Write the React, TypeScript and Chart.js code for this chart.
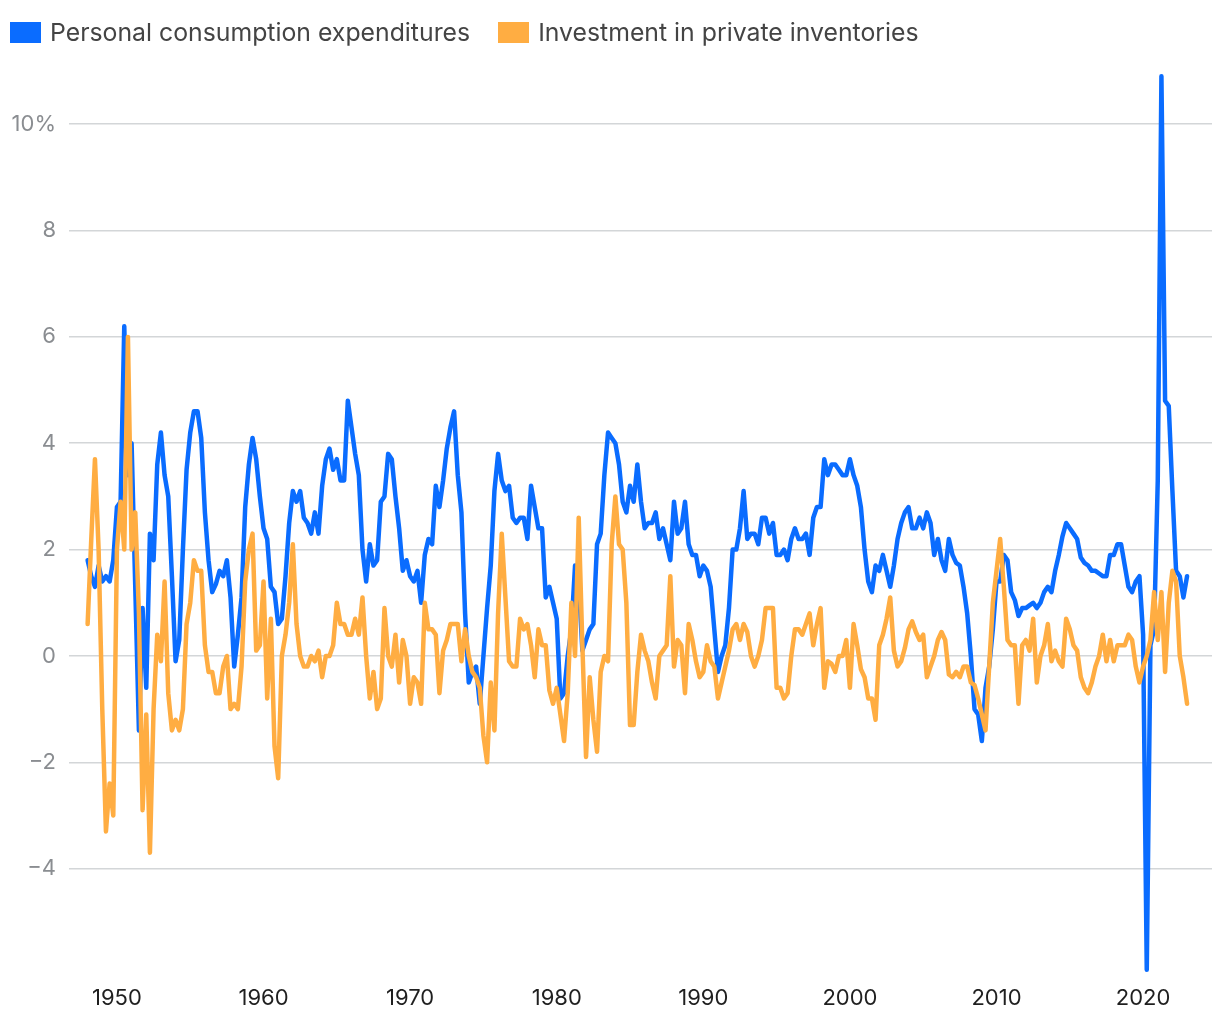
import React, { useEffect, useRef } from "react";
import { Chart, registerables } from "chart.js";

Chart.register(...registerables);

// Quarterly series, first value = 1948 Q1, last value = 2023 Q1
const startYear = 1948;

const seriesNames = ["Personal consumption expenditures", "Investment in private inventories"];
const seriesColors = ["#0a6cff", "#ffad42"];

const pceValues = [
  1.8, 1.5, 1.3, 1.7, // 1948
  1.4, 1.5, 1.4, 1.8, // 1949
  2.8, 2.9, 6.2, 3.4, // 1950
  4.0, 1.3, -1.4, 0.9, // 1951
  -0.6, 2.3, 1.8, 3.6, // 1952
  4.2, 3.4, 3.0, 1.5, // 1953
  -0.1, 0.3, 2.0, 3.5, // 1954
  4.2, 4.6, 4.6, 4.1, // 1955
  2.7, 1.8, 1.2, 1.35, // 1956
  1.6, 1.5, 1.8, 1.1, // 1957
  -0.2, 0.4, 1.1, 2.8, // 1958
  3.6, 4.1, 3.7, 3.0, // 1959
  2.4, 2.2, 1.3, 1.2, // 1960
  0.6, 0.7, 1.5, 2.5, // 1961
  3.1, 2.9, 3.1, 2.6, // 1962
  2.5, 2.3, 2.7, 2.3, // 1963
  3.2, 3.7, 3.9, 3.5, // 1964
  3.7, 3.3, 3.3, 4.8, // 1965
  4.3, 3.8, 3.4, 2.0, // 1966
  1.4, 2.1, 1.7, 1.8, // 1967
  2.9, 3.0, 3.8, 3.7, // 1968
  3.0, 2.4, 1.6, 1.8, // 1969
  1.5, 1.4, 1.6, 1.0, // 1970
  1.9, 2.2, 2.1, 3.2, // 1971
  2.8, 3.3, 3.9, 4.3, // 1972
  4.6, 3.4, 2.7, 0.8, // 1973
  -0.5, -0.3, -0.2, -0.9, // 1974
  0.0, 0.9, 1.7, 3.1, // 1975
  3.8, 3.3, 3.1, 3.2, // 1976
  2.6, 2.5, 2.6, 2.6, // 1977
  2.2, 3.2, 2.8, 2.4, // 1978
  2.4, 1.1, 1.3, 1.0, // 1979
  0.7, -0.8, -0.7, 0.0, // 1980
  0.5, 1.7, 1.4, 0.1, // 1981
  0.3, 0.5, 0.6, 2.1, // 1982
  2.3, 3.4, 4.2, 4.1, // 1983
  4.0, 3.6, 2.9, 2.7, // 1984
  3.2, 2.9, 3.6, 2.9, // 1985
  2.4, 2.5, 2.5, 2.7, // 1986
  2.2, 2.4, 2.1, 1.8, // 1987
  2.9, 2.3, 2.4, 2.9, // 1988
  2.1, 1.9, 1.9, 1.5, // 1989
  1.7, 1.6, 1.3, 0.5, // 1990
  -0.3, 0.0, 0.2, 0.9, // 1991
  2.0, 2.0, 2.4, 3.1, // 1992
  2.2, 2.3, 2.3, 2.1, // 1993
  2.6, 2.6, 2.3, 2.5, // 1994
  1.9, 1.9, 2.0, 1.8, // 1995
  2.2, 2.4, 2.2, 2.2, // 1996
  2.3, 1.9, 2.6, 2.8, // 1997
  2.8, 3.7, 3.4, 3.6, // 1998
  3.6, 3.5, 3.4, 3.4, // 1999
  3.7, 3.4, 3.2, 2.8, // 2000
  2.0, 1.4, 1.2, 1.7, // 2001
  1.6, 1.9, 1.6, 1.3, // 2002
  1.7, 2.2, 2.5, 2.7, // 2003
  2.8, 2.4, 2.4, 2.6, // 2004
  2.4, 2.7, 2.5, 1.9, // 2005
  2.2, 1.8, 1.6, 2.2, // 2006
  1.9, 1.75, 1.7, 1.3, // 2007
  0.8, 0.0, -1.0, -1.1, // 2008
  -1.6, -0.6, -0.2, 0.5, // 2009
  1.4, 1.4, 1.9, 1.8, // 2010
  1.2, 1.05, 0.75, 0.9, // 2011
  0.9, 0.95, 1.0, 0.9, // 2012
  1.0, 1.2, 1.3, 1.2, // 2013
  1.6, 1.9, 2.25, 2.5, // 2014
  2.4, 2.3, 2.2, 1.85, // 2015
  1.75, 1.7, 1.6, 1.6, // 2016
  1.55, 1.5, 1.5, 1.9, // 2017
  1.9, 2.1, 2.1, 1.7, // 2018
  1.3, 1.2, 1.4, 1.5, // 2019
  0.4, -5.9, 0.2, 0.5, // 2020
  3.3, 10.9, 4.8, 4.7, // 2021
  3.1, 1.6, 1.5, 1.1, // 2022
  1.5, // 2023
];

const inventoryValues = [
  0.6, 2.2, 3.7, 2.0, // 1948
  -1.0, -3.3, -2.4, -3.0, // 1949
  2.0, 2.9, 2.0, 6.0, // 1950
  2.0, 2.7, 0.8, -2.9, // 1951
  -1.1, -3.7, -1.0, 0.4, // 1952
  -0.1, 1.4, -0.7, -1.4, // 1953
  -1.2, -1.4, -1.0, 0.6, // 1954
  1.0, 1.8, 1.6, 1.6, // 1955
  0.2, -0.3, -0.3, -0.7, // 1956
  -0.7, -0.2, 0.0, -1.0, // 1957
  -0.9, -1.0, -0.2, 1.4, // 1958
  2.0, 2.3, 0.1, 0.2, // 1959
  1.4, -0.8, 0.7, -1.7, // 1960
  -2.3, 0.0, 0.4, 1.0, // 1961
  2.1, 0.6, 0.0, -0.2, // 1962
  -0.2, 0.0, -0.1, 0.1, // 1963
  -0.4, 0.0, 0.0, 0.2, // 1964
  1.0, 0.6, 0.6, 0.4, // 1965
  0.4, 0.7, 0.4, 1.1, // 1966
  0.0, -0.8, -0.3, -1.0, // 1967
  -0.8, 0.9, 0.0, -0.2, // 1968
  0.4, -0.5, 0.3, 0.0, // 1969
  -0.9, -0.4, -0.5, -0.9, // 1970
  1.0, 0.5, 0.5, 0.4, // 1971
  -0.7, 0.1, 0.3, 0.6, // 1972
  0.6, 0.6, -0.1, 0.5, // 1973
  0.0, -0.3, -0.4, -0.6, // 1974
  -1.5, -2.0, -0.5, -1.4, // 1975
  0.8, 2.3, 1.1, -0.1, // 1976
  -0.2, -0.2, 0.7, 0.5, // 1977
  0.6, 0.2, -0.4, 0.5, // 1978
  0.2, 0.2, -0.65, -0.9, // 1979
  -0.6, -1.1, -1.6, -0.7, // 1980
  1.0, 0.0, 2.6, 0.2, // 1981
  -1.9, -0.4, -1.2, -1.8, // 1982
  -0.3, 0.0, -0.1, 2.1, // 1983
  3.0, 2.1, 2.0, 1.0, // 1984
  -1.3, -1.3, -0.3, 0.4, // 1985
  0.1, -0.1, -0.5, -0.8, // 1986
  0.0, 0.1, 0.2, 1.5, // 1987
  -0.2, 0.3, 0.2, -0.7, // 1988
  0.6, 0.3, -0.1, -0.4, // 1989
  -0.3, 0.2, -0.1, -0.2, // 1990
  -0.8, -0.5, -0.2, 0.1, // 1991
  0.5, 0.6, 0.3, 0.6, // 1992
  0.45, 0.0, -0.2, 0.0, // 1993
  0.3, 0.9, 0.9, 0.9, // 1994
  -0.6, -0.6, -0.8, -0.7, // 1995
  0.0, 0.5, 0.5, 0.4, // 1996
  0.6, 0.8, 0.2, 0.6, // 1997
  0.9, -0.6, -0.1, -0.15, // 1998
  -0.3, 0.0, 0.0, 0.3, // 1999
  -0.6, 0.6, 0.2, -0.25, // 2000
  -0.4, -0.8, -0.8, -1.2, // 2001
  0.2, 0.4, 0.7, 1.1, // 2002
  0.1, -0.2, -0.1, 0.15, // 2003
  0.5, 0.65, 0.45, 0.3, // 2004
  0.4, -0.4, -0.2, 0.0, // 2005
  0.3, 0.45, 0.3, -0.35, // 2006
  -0.4, -0.3, -0.4, -0.2, // 2007
  -0.2, -0.5, -0.55, -0.8, // 2008
  -1.1, -1.4, -0.2, 1.0, // 2009
  1.6, 2.2, 1.3, 0.3, // 2010
  0.2, 0.2, -0.9, 0.2, // 2011
  0.3, 0.1, 0.7, -0.5, // 2012
  0.0, 0.2, 0.6, -0.1, // 2013
  0.1, -0.1, -0.2, 0.7, // 2014
  0.5, 0.2, 0.1, -0.4, // 2015
  -0.6, -0.7, -0.5, -0.2, // 2016
  0.0, 0.4, -0.1, 0.3, // 2017
  -0.1, 0.2, 0.2, 0.2, // 2018
  0.4, 0.3, -0.2, -0.5, // 2019
  -0.2, 0.0, 0.3, 1.2, // 2020
  0.3, 1.2, -0.3, 1.0, // 2021
  1.6, 1.4, 0.0, -0.4, // 2022
  -0.9, // 2023
];

const yTickValues = [-4, -2, 0, 2, 4, 6, 8, 10];
const xTickYears = [1950, 1960, 1970, 1980, 1990, 2000, 2010, 2020];

const FONT = "Inter, 'Noto Sans', sans-serif";

function toPoints(values: number[]) {
  return values.map((v, i) => ({ x: startYear + i / 4, y: v }));
}

export default function App() {
  const canvasRef = useRef<HTMLCanvasElement | null>(null);

  useEffect(() => {
    const canvas = canvasRef.current;
    if (!canvas) return;
    const chart = new Chart(canvas, {
      type: "line",
      data: {
        datasets: [
          {
            label: seriesNames[0],
            data: toPoints(pceValues),
            borderColor: seriesColors[0],
            backgroundColor: seriesColors[0],
            borderWidth: 4.5,
            pointRadius: 0,
            tension: 0,
            borderJoinStyle: "round",
            borderCapStyle: "round",
            order: 1,
          },
          {
            label: seriesNames[1],
            data: toPoints(inventoryValues),
            borderColor: seriesColors[1],
            backgroundColor: seriesColors[1],
            borderWidth: 4.5,
            pointRadius: 0,
            tension: 0,
            borderJoinStyle: "round",
            borderCapStyle: "round",
            order: 0,
          },
        ],
      },
      options: {
        responsive: false,
        animation: false,
        layout: { padding: { top: 63, left: 0, right: 0, bottom: 0 } },
        plugins: {
          legend: { display: false },
          tooltip: { enabled: false },
        },
        scales: {
          x: {
            type: "linear",
            min: 1946.73,
            max: 2024.7,
            grid: { display: false },
            border: { display: false },
            afterBuildTicks: (scale: any) => {
              scale.ticks = xTickYears.map((v) => ({ value: v }));
            },
            afterFit: (scale: any) => {
              scale.height = 37;
            },
            ticks: {
              padding: 2,
              maxRotation: 0,
              autoSkip: false,
              color: "#1f1f1f",
              font: { family: FONT, size: 22 },
              callback: (v: any) => String(v),
            },
          },
          y: {
            type: "linear",
            min: -6,
            max: 11,
            grid: { color: "#d3d6d8", lineWidth: 1.5, drawTicks: false },
            border: { display: false },
            afterBuildTicks: (scale: any) => {
              scale.ticks = yTickValues.map((v) => ({ value: v }));
            },
            afterFit: (scale: any) => {
              scale.width = 61;
            },
            ticks: {
              padding: 13,
              color: "#8a8d91",
              font: { family: FONT, size: 22 },
              callback: (v: any) => {
                const n = Number(v);
                if (n === 10) return "10%";
                if (n < 0) return "\u2212" + Math.abs(n);
                return String(n);
              },
            },
          },
        },
      },
    });
    return () => chart.destroy();
  }, []);

  const legendItem = (i: number, marginLeft: number) => (
    <div style={{ display: "flex", alignItems: "center", marginLeft }}>
      <span
        style={{
          display: "inline-block",
          width: 31,
          height: 21,
          background: seriesColors[i],
          marginRight: 9,
        }}
      />
      <span style={{ fontFamily: FONT, fontSize: 24.8, color: "#444", whiteSpace: "nowrap" }}>
        {seriesNames[i]}
      </span>
    </div>
  );

  return (
    <div style={{ position: "relative", width: 1204, height: 1004 }}>
      <canvas ref={canvasRef} width={1204} height={1004} style={{ display: "block" }} />
      <div
        style={{
          position: "absolute",
          top: 10,
          left: 2,
          display: "flex",
          alignItems: "center",
          height: 28,
        }}
      >
        {legendItem(0, 0)}
        {legendItem(1, 28)}
      </div>
    </div>
  );
}
